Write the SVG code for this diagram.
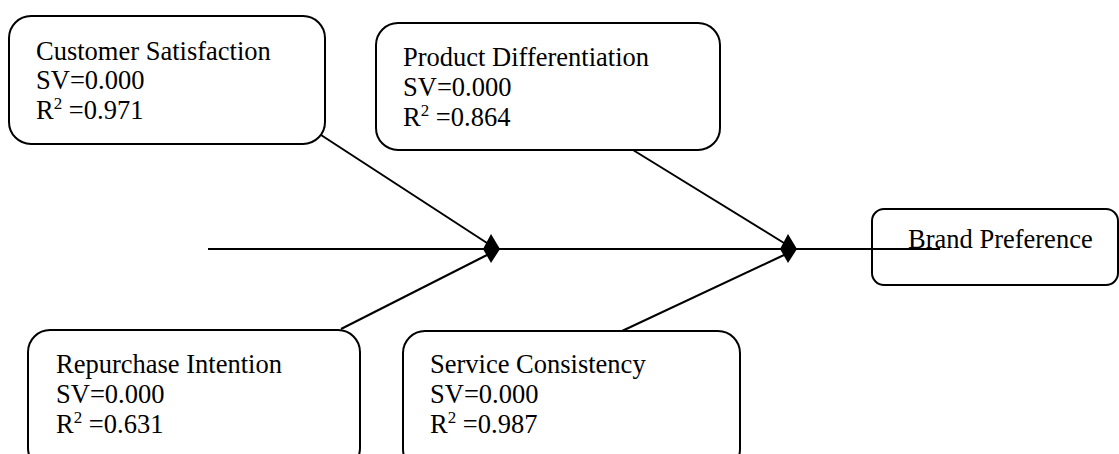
<svg xmlns="http://www.w3.org/2000/svg" width="1119" height="454" viewBox="0 0 1119 454">
<style>
.box{fill:#fff;stroke:#000;stroke-width:2}
.ln{stroke:#000;stroke-width:2;fill:none}
.t{font-size:26.5px;fill:#000}
.sup{font-size:17px}
</style>
<rect width="1119" height="454" fill="#fff"/>
<g id="connectors">
<line class="ln" x1="208" y1="249" x2="940" y2="249"/>
<line class="ln" x1="321" y1="135" x2="487" y2="243"/>
<line class="ln" x1="341" y1="329" x2="487" y2="255"/>
<line class="ln" x1="633" y1="150" x2="784" y2="243"/>
<line class="ln" x1="622" y1="331" x2="784" y2="255"/>
<polygon points="483,249 491,234 500,249 491,263" fill="#000"/>
<polygon points="780,249 788,234 797,249 788,263" fill="#000"/>
</g>
<g font-family="Liberation Serif, serif">
<g id="customer-satisfaction">
<rect class="box" x="9" y="16" width="316" height="128" rx="22"/>
<text class="t" x="36" y="60">Customer Satisfaction</text>
<text class="t" x="36" y="89">SV=0.000</text>
<text class="t" x="36" y="119">R<tspan class="sup" dy="-10">2</tspan><tspan dy="10"> =0.971</tspan></text>
</g>
<g id="product-differentiation">
<rect class="box" x="376" y="23" width="344" height="127" rx="22"/>
<text class="t" x="403" y="66">Product Differentiation</text>
<text class="t" x="403" y="96">SV=0.000</text>
<text class="t" x="403" y="126">R<tspan class="sup" dy="-10">2</tspan><tspan dy="10"> =0.864</tspan></text>
</g>
<g id="repurchase-intention">
<rect class="box" x="28" y="330" width="332" height="140" rx="22"/>
<text class="t" x="56" y="373">Repurchase Intention</text>
<text class="t" x="56" y="403">SV=0.000</text>
<text class="t" x="56" y="433">R<tspan class="sup" dy="-10">2</tspan><tspan dy="10"> =0.631</tspan></text>
</g>
<g id="service-consistency">
<rect class="box" x="403" y="331" width="337" height="140" rx="22"/>
<text class="t" x="430" y="373">Service Consistency</text>
<text class="t" x="430" y="403">SV=0.000</text>
<text class="t" x="430" y="433">R<tspan class="sup" dy="-10">2</tspan><tspan dy="10"> =0.987</tspan></text>
</g>
<g id="brand-preference">
<rect x="872" y="209" width="246" height="76" rx="12" fill="none" stroke="#000" stroke-width="2"/>
<text class="t" x="908" y="248">Brand Preference</text>
</g>
</g>
</svg>
